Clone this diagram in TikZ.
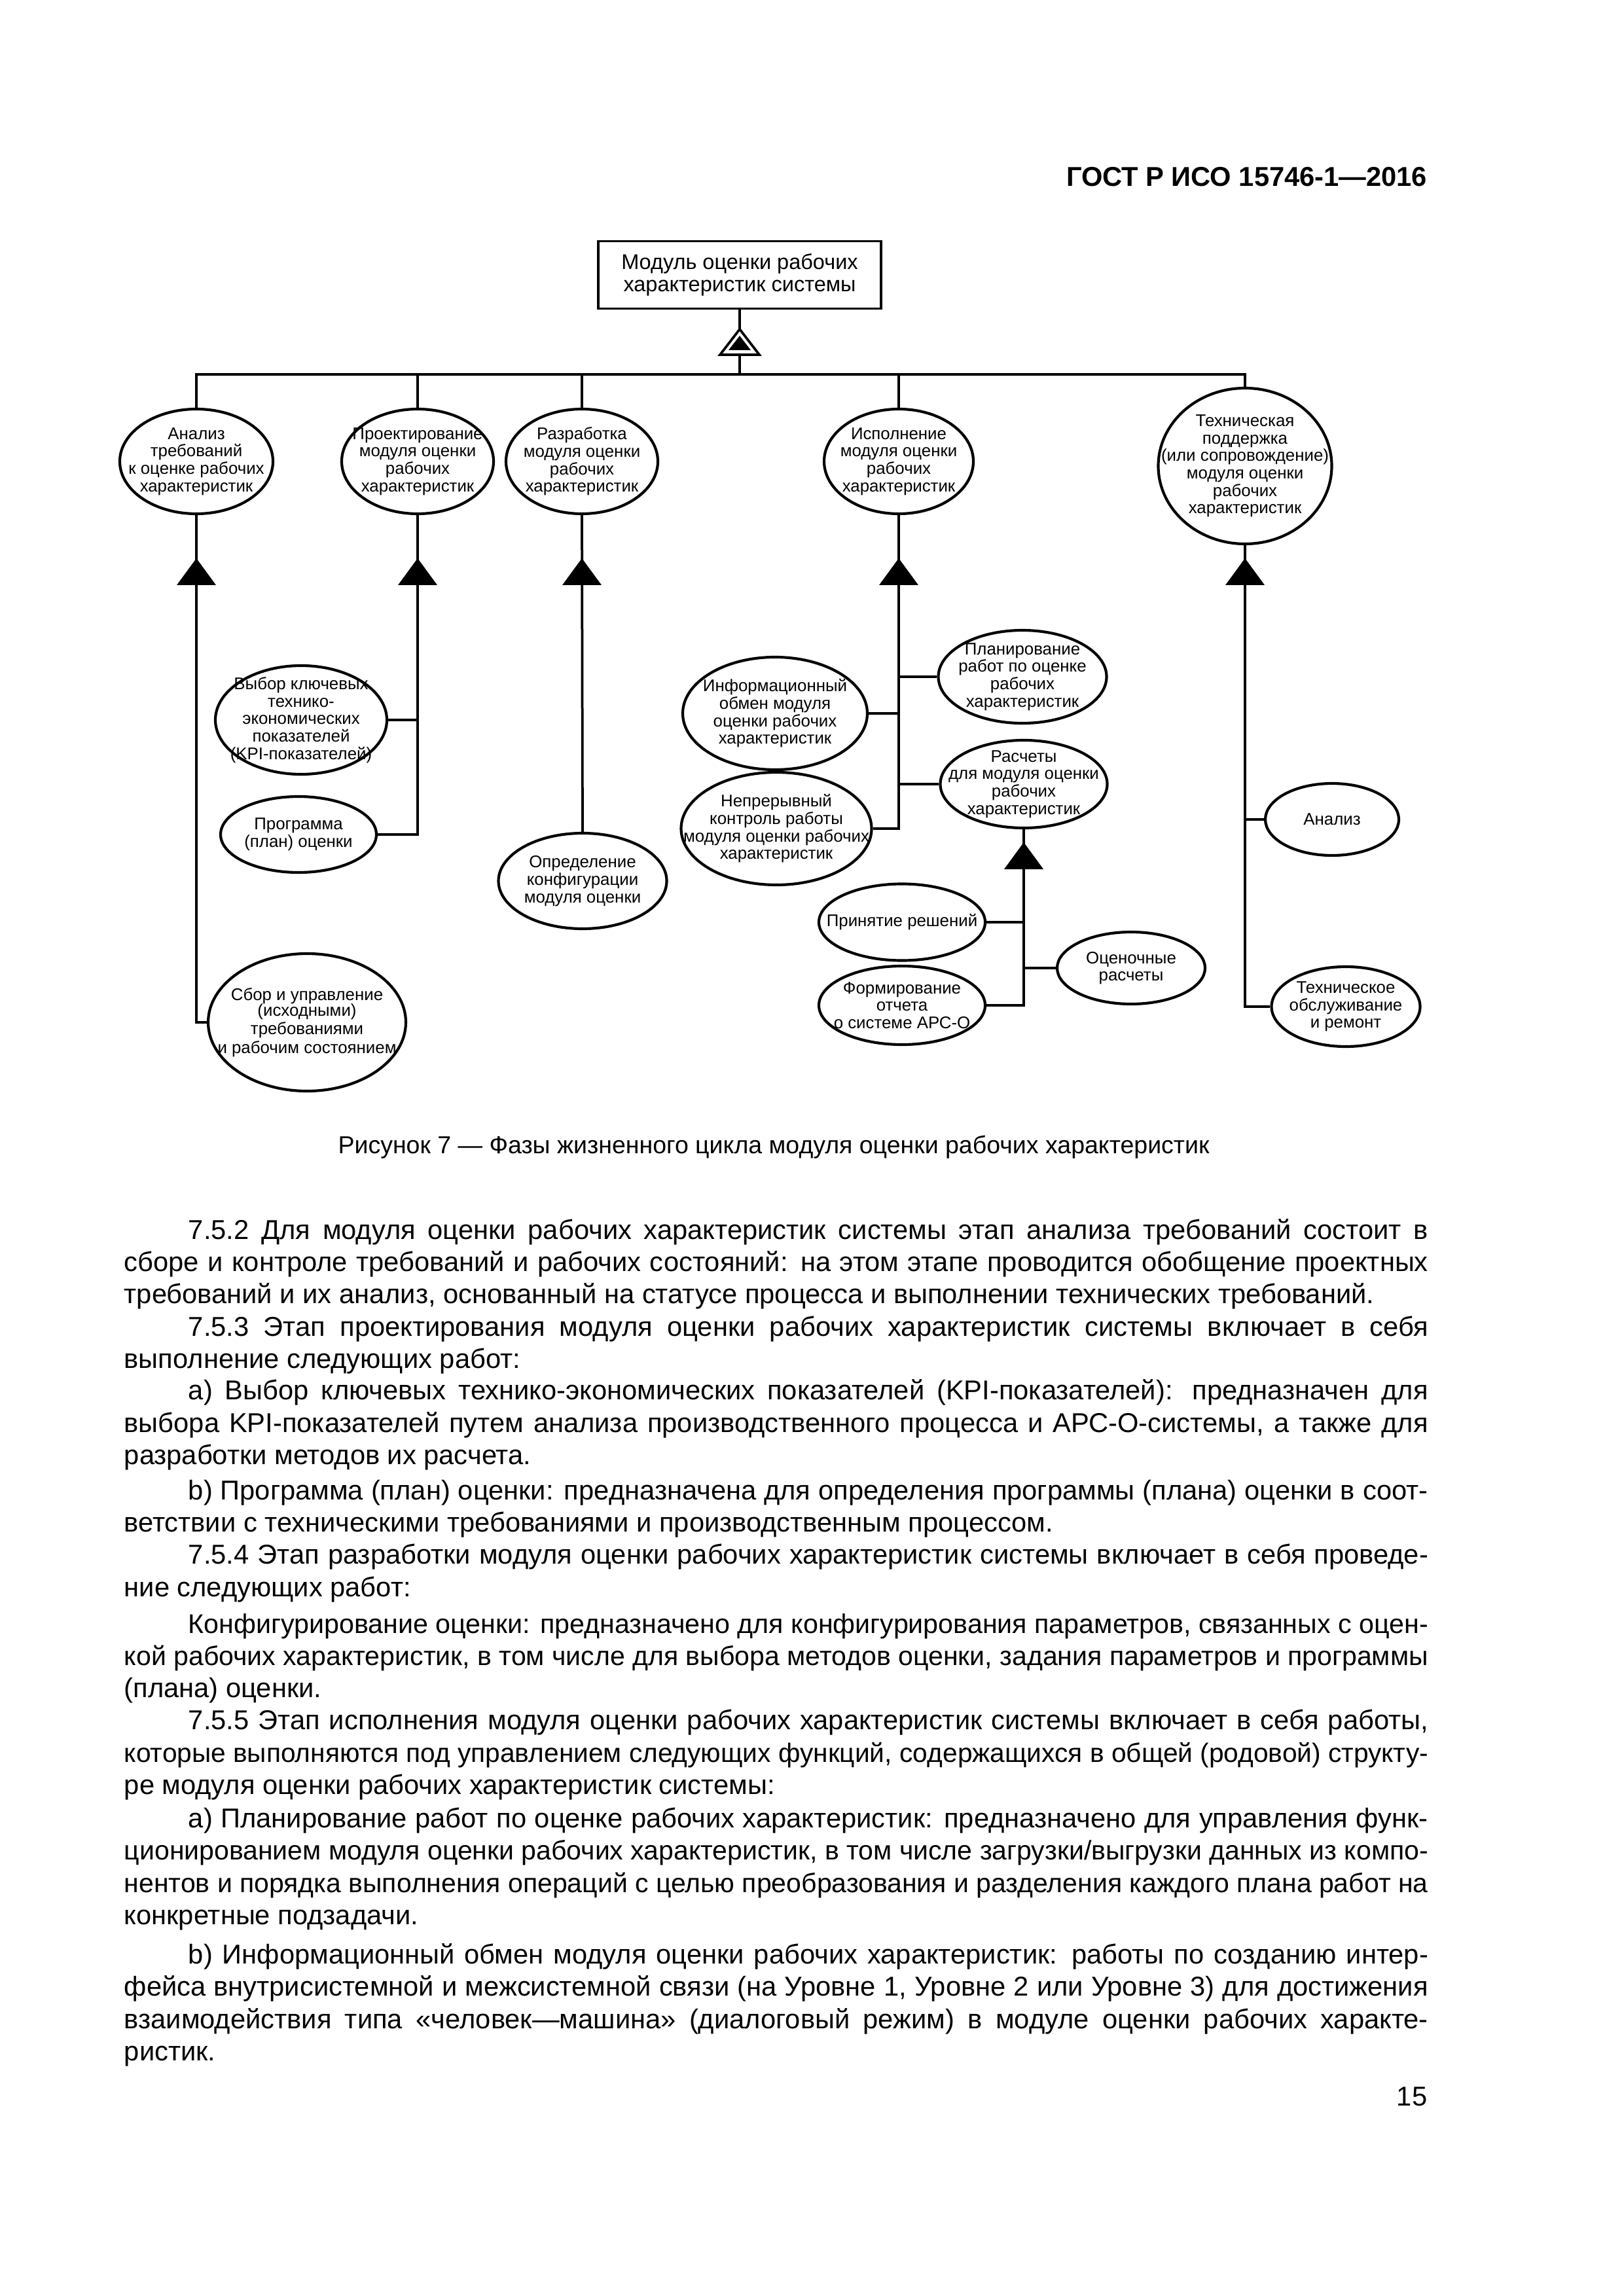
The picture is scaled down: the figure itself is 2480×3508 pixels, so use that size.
\documentclass[tikz,border=0pt]{standalone}
\usepackage{fontspec}
\setmainfont{Liberation Sans}
\usepackage{graphicx}
\usetikzlibrary{shapes.geometric}
\newlength\jlw
\newcommand\jline[2]{\settowidth\jlw{#2}\ifdim\jlw>#1\relax\resizebox{#1}{!}{#2}\else\makebox[#1][s]{#2}\fi}
\newcommand\fulltri[1]{\fill (#1) ++(-30,0) -- ++(30,-41) -- ++(30,41) -- cycle;}
\begin{document}
\begin{tikzpicture}[x=0.24pt,y=-0.24pt,
  ln/.style={line width=0.9pt},
  ell/.style 2 args={ellipse, draw, line width=1pt, inner sep=0pt, minimum width=#1*0.24pt, minimum height=#2*0.24pt},
  lbl/.style={font=\fontsize{6.2}{6.4}\selectfont, align=center, inner sep=0pt},
  btxt/.style={anchor=base west, inner sep=0pt, font=\fontsize{10}{12}\selectfont}]
\fill[white] (0,0) rectangle (2480,3508);
\path[use as bounding box] (0,0) rectangle (2480,3508);

% header
\node[anchor=base east, inner sep=0pt, font=\bfseries\fontsize{10}{12}\selectfont] (hdr) at (2181,285) {ГОСТ Р ИСО 15746-1—2016};

% top box
\node[draw, line width=0.9pt, minimum width=432*0.24pt, minimum height=103*0.24pt, inner sep=0pt, align=center, font=\fontsize{7.8}{8.2}\selectfont] (top) at (1130,420) {Модуль оценки рабочих\\характеристик системы};
\coordinate (bus) at (1130,572);
\coordinate (tri0) at (1130,542);
\draw[ln] (top.south) -- (bus);
\draw[ln, fill=white] (tri0) ++(-30,0) -- ++(30,-39) -- ++(30,39) -- cycle;
\fill (tri0) ++(-17,-7) -- ++(17,-22) -- ++(17,22) -- cycle;

% level 1
\node[ell={234}{160}] (E1) at (300,705) {};
\node[ell={232}{160}] (E2) at (638,705) {};
\node[ell={232}{160}] (E3) at (889,705) {};
\node[ell={228}{160}] (E4) at (1373,705) {};
\node[ell={265}{238}] (E5) at (1902,712) {};
\node[lbl] (E1t) at (E1) {Анализ\\требований\\к оценке рабочих\\характеристик};
\node[lbl] (E2t) at (E2) {Проектирование\\модуля оценки\\рабочих\\характеристик};
\node[lbl] (E3t) at (E3) {Разработка\\модуля оценки\\рабочих\\характеристик};
\node[lbl] (E4t) at (E4) {Исполнение\\модуля оценки\\рабочих\\характеристик};
\node[lbl] (E5t) at (E5) {Техническая\\поддержка\\(или сопровождение)\\модуля оценки\\рабочих\\характеристик};

\draw[ln] (E1.north) |- (bus) -| (E5.north);
\draw[ln] (E2.north) -- (E2.north |- bus);
\draw[ln] (E3.north) -- (E3.north |- bus);
\draw[ln] (E4.north) -- (E4.north |- bus);

\coordinate (T1) at (300,894);
\coordinate (T2) at (638,894);
\coordinate (T3) at (889,894);
\coordinate (T4) at (1373,894);
\coordinate (T5) at (1902,894);
\coordinate (T6) at (1564,1328);

% column 1
\node[ell={302}{210}] (Sbor) at (469,1562) {};
\node[lbl, font=\fontsize{6.2}{5.8}\selectfont] (Sbort) at (Sbor) {Сбор и управление\\(исходными)\\требованиями\\и рабочим состоянием};
\draw[ln] (E1.south) -- (T1) |- (Sbor.west);

% column 2
\node[ell={262}{166}] (Vybor) at (460,1100) {};
\node[lbl] (Vybort) at (Vybor) {Выбор ключевых\\технико-\\экономических\\показателей\\(KPI-показателей)};
\node[ell={238}{116}] (Prog) at (456,1275) {};
\node[lbl] (Progt) at (Prog) {Программа\\(план) оценки};
\draw[ln] (E2.south) -- (T2) |- (Prog.east);
\draw[ln] (Vybor.east) -- (Vybor.east -| T2);

% column 3
\node[ell={257}{146}] (Opr) at (890,1346) {};
\node[lbl] (Oprt) at (Opr) {Определение\\конфигурации\\модуля оценки};
\draw[ln] (E3.south) -- (Opr.north);

% column 4
\node[ell={257}{142}] (Plan) at (1562,1034) {};
\node[lbl] (Plant) at (Plan) {Планирование\\работ по оценке\\рабочих\\характеристик};
\node[ell={282}{172}] (Info) at (1184,1090) {};
\node[lbl] (Infot) at (Info) {Информационный\\обмен модуля\\оценки рабочих\\характеристик};
\node[ell={255}{134}] (Rasch) at (1564,1198) {};
\node[lbl] (Rascht) at (Rasch) {Расчеты\\для модуля оценки\\рабочих\\характеристик};
\node[ell={291}{172}] (Nepr) at (1186,1266) {};
\node[lbl] (Neprt) at (Nepr) {Непрерывный\\контроль работы\\модуля оценки рабочих\\характеристик};
\draw[ln] (E4.south) -- (T4) |- (Nepr.east);
\draw[ln] (Plan.west) -- (Plan.west -| T4);
\draw[ln] (Info.east) -- (Info.east -| T4);
\draw[ln] (Rasch.west) -- (Rasch.west -| T4);

% sub column under Rasch
\node[ell={254}{117}] (Prin) at (1378,1409) {};
\node[lbl] (Print) at (Prin) {Принятие решений};
\node[ell={226}{110}] (Ocen) at (1728,1479) {};
\node[lbl] (Ocent) at (Ocen) {Оценочные\\расчеты};
\node[ell={254}{120}] (Form) at (1378,1536) {};
\node[lbl] (Formt) at (Form) {Формирование\\отчета\\о системе АРС-О};
\draw[ln] (Rasch.south) -- (T6) |- (Form.east);
\draw[ln] (Prin.east) -- (Prin.east -| T6);
\draw[ln] (Ocen.west) -- (Ocen.west -| T6);

% column 5
\node[ell={204}{110}] (An) at (2035,1252) {};
\node[lbl] (Ant) at (An) {Анализ};
\node[ell={227}{122}] (TO) at (2056,1538) {};
\node[lbl] (TOt) at (TO) {Техническое\\обслуживание\\и ремонт};
\draw[ln] (E5.south) -- (T5) |- (TO.west);
\draw[ln] (An.west) -- (An.west -| T5);

% triangles
\fulltri{T1}
\fulltri{T2}
\fulltri{T3}
\fulltri{T4}
\fulltri{T5}
\fulltri{T6}

% caption
\node[anchor=base, inner sep=0pt, font=\fontsize{9}{11}\selectfont] (cap) at (1182,1762) {Рисунок 7 — Фазы жизненного цикла модуля оценки рабочих характеристик};

% body text
\node[btxt] (b1) at (287,1893) {\jline{454.56pt}{7.5.2 Для модуля оценки рабочих характеристик системы этап анализа требований состоит в}};
\node[btxt] (b2) at (189,1942) {\jline{478.08pt}{сборе и контроле требований и рабочих состояний: на этом этапе проводится обобщение проектных}};
\node[btxt] (b3) at (189,1991) {требований и их анализ, основанный на статусе процесса и выполнении технических требований.};
\node[btxt] (b4) at (287,2041) {\jline{454.56pt}{7.5.3 Этап проектирования модуля оценки рабочих характеристик системы включает в себя}};
\node[btxt] (b5) at (189,2090) {выполнение следующих работ:};
\node[btxt] (b6) at (287,2138) {\jline{454.56pt}{a) Выбор ключевых технико-экономических показателей (KPI-показателей): предназначен для}};
\node[btxt] (b7) at (189,2188) {\jline{478.08pt}{выбора KPI-показателей путем анализа производственного процесса и АРС-О-системы, а также для}};
\node[btxt] (b8) at (189,2237) {разработки методов их расчета.};
\node[btxt] (b9) at (287,2291) {\jline{454.56pt}{b) Программа (план) оценки: предназначена для определения программы (плана) оценки в соот-}};
\node[btxt] (b10) at (189,2340) {ветствии с техническими требованиями и производственным процессом.};
\node[btxt] (b11) at (287,2389) {\jline{454.56pt}{7.5.4 Этап разработки модуля оценки рабочих характеристик системы включает в себя проведе-}};
\node[btxt] (b12) at (189,2439) {ние следующих работ:};
\node[btxt] (b13) at (287,2495) {\jline{454.56pt}{Конфигурирование оценки: предназначено для конфигурирования параметров, связанных с оцен-}};
\node[btxt] (b14) at (189,2544) {\jline{478.08pt}{кой рабочих характеристик, в том числе для выбора методов оценки, задания параметров и программы}};
\node[btxt] (b15) at (189,2593) {(плана) оценки.};
\node[btxt] (b16) at (287,2642) {\jline{454.56pt}{7.5.5 Этап исполнения модуля оценки рабочих характеристик системы включает в себя работы,}};
\node[btxt] (b17) at (189,2692) {\jline{478.08pt}{которые выполняются под управлением следующих функций, содержащихся в общей (родовой) структу-}};
\node[btxt] (b18) at (189,2741) {ре модуля оценки рабочих характеристик системы:};
\node[btxt] (b19) at (287,2792) {\jline{454.56pt}{a) Планирование работ по оценке рабочих характеристик: предназначено для управления функ-}};
\node[btxt] (b20) at (189,2841) {\jline{478.08pt}{ционированием модуля оценки рабочих характеристик, в том числе загрузки/выгрузки данных из компо-}};
\node[btxt] (b21) at (189,2891) {\jline{478.08pt}{нентов и порядка выполнения операций с целью преобразования и разделения каждого плана работ на}};
\node[btxt] (b22) at (189,2940) {конкретные подзадачи.};
\node[btxt] (b23) at (287,3000) {\jline{454.56pt}{b) Информационный обмен модуля оценки рабочих характеристик: работы по созданию интер-}};
\node[btxt] (b24) at (189,3049) {\jline{478.08pt}{фейса внутрисистемной и межсистемной связи (на Уровне 1, Уровне 2 или Уровне 3) для достижения}};
\node[btxt] (b25) at (189,3099) {\jline{478.08pt}{взаимодействия типа «человек—машина» (диалоговый режим) в модуле оценки рабочих характе-}};
\node[btxt] (b26) at (189,3148) {ристик.};

% page number
\node[anchor=base east, inner sep=0pt, font=\fontsize{10}{12}\selectfont] (pg) at (2181,3217) {15};
\end{tikzpicture}
\end{document}
